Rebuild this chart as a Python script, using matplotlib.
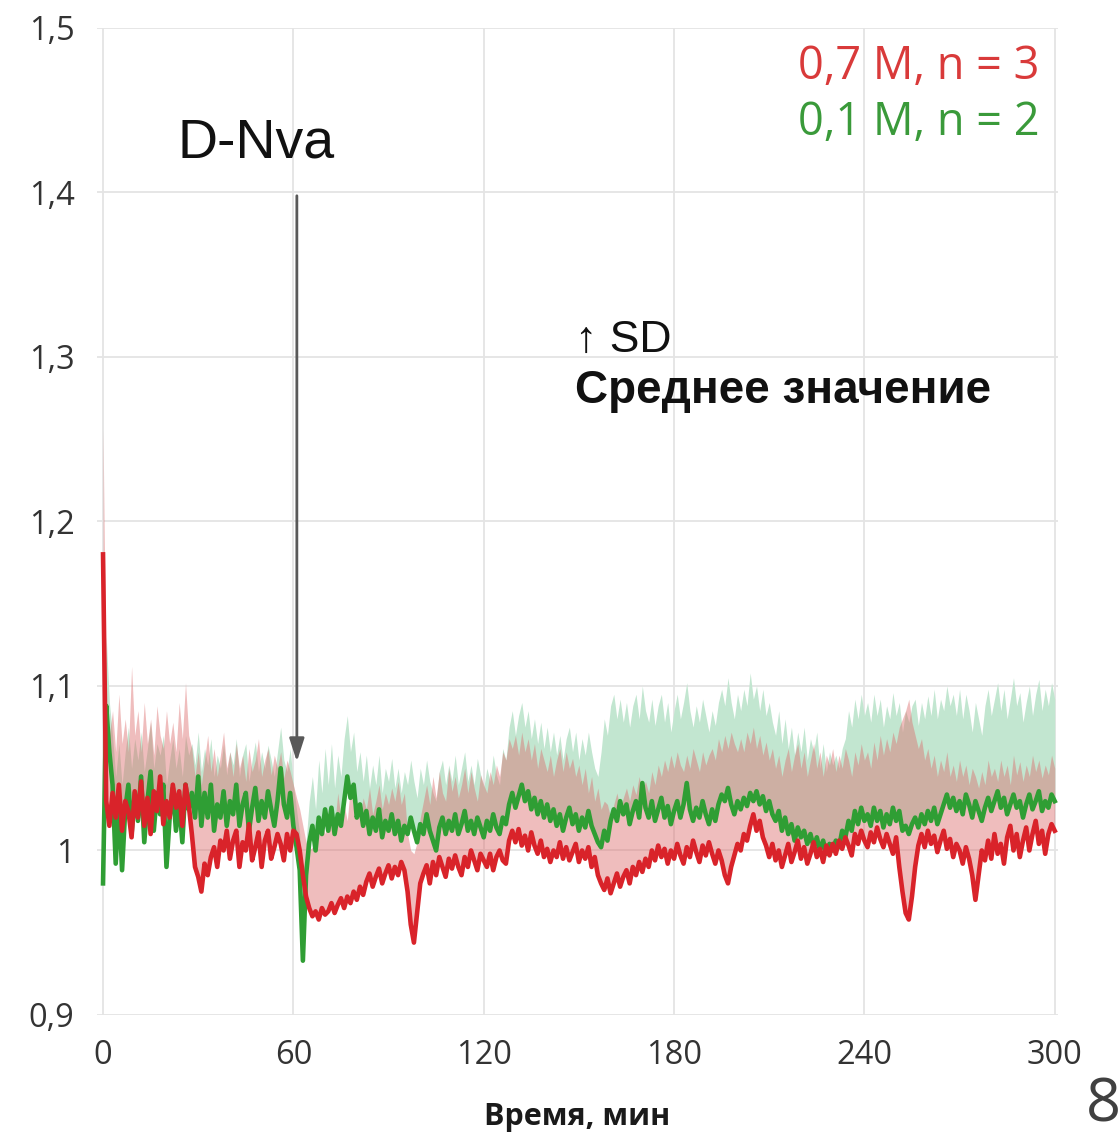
import numpy as np
import matplotlib
matplotlib.use("Agg")
import matplotlib.pyplot as plt

# time grid (minutes)
t = np.arange(0, 301)

# mean, 0.7 M (red)
red_mean = [
1.180,
1.030,1.015,1.035,1.020,1.040,1.012,1.030,1.024,1.008,1.036,
1.020,1.042,1.015,1.032,1.010,1.036,1.024,1.045,1.016,1.030,
1.020,1.040,1.026,1.036,1.015,1.040,1.028,1.010,0.990,0.984,
0.975,0.992,0.985,0.996,1.002,0.990,1.006,1.000,1.012,0.995,
1.006,1.012,0.990,1.005,1.000,1.016,0.994,1.002,1.011,0.990,
1.006,1.012,0.995,1.002,1.010,1.004,0.994,1.010,1.000,1.012,
1.010,1.000,0.985,0.972,0.965,0.960,0.963,0.958,0.965,0.961,
0.963,0.968,0.962,0.967,0.971,0.965,0.972,0.968,0.975,0.970,
0.978,0.973,0.981,0.986,0.978,0.984,0.989,0.980,0.986,0.991,
0.983,0.990,0.985,0.993,0.988,0.975,0.955,0.944,0.962,0.980,
0.986,0.991,0.980,0.993,0.985,0.996,0.990,0.984,0.995,0.989,
0.997,0.990,0.985,0.996,0.990,1.000,0.994,0.988,0.998,0.994,
0.990,0.998,0.988,0.996,1.000,0.994,0.992,1.006,1.012,1.005,
1.013,1.003,1.009,1.000,1.011,1.003,0.998,1.006,0.996,1.001,
0.993,1.000,0.996,1.005,0.995,1.002,0.994,0.999,1.004,0.993,
1.000,0.995,1.002,0.990,0.996,0.985,0.980,0.976,0.983,0.974,
0.980,0.986,0.978,0.984,0.988,0.980,0.990,0.985,0.993,0.987,
0.995,0.990,1.000,0.994,1.003,0.996,1.001,0.992,1.000,0.995,
1.004,0.997,0.992,1.002,0.996,1.006,0.999,0.993,1.003,0.997,
1.005,0.998,0.992,1.000,0.994,0.985,0.980,0.990,0.997,1.004,
1.000,1.010,1.006,1.015,1.022,1.012,1.018,1.008,1.003,0.996,
1.004,0.994,1.000,0.990,0.997,1.004,0.993,0.999,1.006,0.995,
1.002,0.992,0.998,1.005,0.996,1.001,0.993,1.003,0.997,1.004,
0.998,1.006,1.001,1.008,1.003,0.997,1.010,1.004,1.012,1.006,
1.002,1.011,1.005,1.014,1.007,1.002,1.010,1.004,0.998,1.008,
0.990,0.975,0.962,0.958,0.972,0.990,1.003,1.010,1.002,1.012,
1.004,1.009,0.999,1.006,1.012,1.001,1.007,0.996,1.004,1.000,
0.992,1.002,0.995,0.985,0.970,0.985,1.000,0.994,1.006,0.995,
1.010,0.998,1.004,0.992,1.008,1.015,1.000,1.010,0.996,1.006,
1.014,1.000,1.010,1.018,1.004,1.012,0.998,1.010,1.016,1.012,
]

# mean + SD, 0.7 M (red band top)
red_upper = [
1.256,
1.090,1.070,1.085,1.060,1.095,1.065,1.080,1.060,1.112,1.070,
1.085,1.060,1.090,1.065,1.080,1.058,1.088,1.070,1.062,1.085,
1.065,1.078,1.060,1.090,1.068,1.102,1.070,1.062,1.045,1.060,
1.040,1.055,1.070,1.048,1.062,1.045,1.058,1.072,1.050,1.060,
1.045,1.065,1.050,1.058,1.042,1.062,1.048,1.055,1.068,1.045,
1.055,1.062,1.046,1.058,1.050,1.060,1.044,1.055,1.048,1.040,
1.032,1.025,1.015,1.005,1.000,1.002,1.008,1.012,1.018,1.010,
1.020,1.025,1.015,1.035,1.020,1.028,1.018,1.040,1.025,1.030,
1.020,1.032,1.025,1.038,1.022,1.030,1.040,1.025,1.035,1.028,
1.038,1.030,1.042,1.028,1.035,1.010,1.000,0.998,1.005,1.020,
1.030,1.040,1.028,1.045,1.032,1.048,1.035,1.030,1.050,1.036,
1.045,1.032,1.040,1.050,1.035,1.048,1.038,1.030,1.046,1.040,
1.035,1.048,1.040,1.052,1.045,1.060,1.055,1.068,1.062,1.070,
1.058,1.072,1.060,1.068,1.055,1.065,1.050,1.062,1.055,1.048,
1.058,1.045,1.055,1.062,1.048,1.060,1.050,1.056,1.045,1.052,
1.040,1.050,1.035,1.045,1.030,1.038,1.025,1.030,1.028,1.020,
1.028,1.035,1.025,1.032,1.038,1.030,1.040,1.034,1.045,1.036,
1.042,1.035,1.048,1.040,1.052,1.045,1.055,1.048,1.058,1.050,
1.060,1.052,1.048,1.058,1.050,1.062,1.055,1.048,1.060,1.052,
1.058,1.062,1.055,1.068,1.060,1.070,1.062,1.072,1.065,1.060,
1.068,1.060,1.072,1.065,1.075,1.062,1.070,1.058,1.066,1.055,
1.062,1.050,1.058,1.045,1.055,1.062,1.048,1.058,1.065,1.050,
1.060,1.045,1.055,1.065,1.050,1.060,1.045,1.058,1.052,1.062,
1.048,1.058,1.050,1.062,1.055,1.045,1.060,1.052,1.065,1.055,
1.060,1.050,1.066,1.055,1.070,1.058,1.068,1.060,1.072,1.065,
1.075,1.080,1.085,1.092,1.078,1.070,1.062,1.068,1.055,1.062,
1.050,1.058,1.045,1.055,1.048,1.060,1.045,1.052,1.042,1.055,
1.045,1.052,1.040,1.050,1.045,1.038,1.048,1.040,1.055,1.045,
1.050,1.042,1.055,1.045,1.052,1.040,1.058,1.046,1.054,1.042,
1.052,1.045,1.058,1.048,1.055,1.044,1.052,1.046,1.058,1.050,
]

# mean, 0.1 M (green)
green_mean = [
0.980,
1.088,1.060,1.040,0.992,1.030,0.988,1.025,1.040,1.010,1.035,
1.018,1.045,1.005,1.030,1.048,1.012,1.035,1.022,1.040,0.990,
1.020,1.038,1.012,1.030,1.005,1.040,1.025,1.035,1.020,1.045,
1.015,1.035,1.020,1.040,1.012,1.028,1.020,1.036,1.015,1.030,
1.022,1.040,1.015,1.028,1.035,1.012,1.026,1.038,1.018,1.030,
1.020,1.036,1.025,1.015,1.030,1.050,1.028,1.020,1.035,1.015,
1.002,0.988,0.933,0.985,1.005,1.015,1.000,1.020,1.010,1.025,
1.012,1.026,1.010,1.022,1.015,1.030,1.045,1.032,1.040,1.020,
1.028,1.015,1.024,1.010,1.020,1.012,1.025,1.008,1.018,1.012,
1.022,1.010,1.018,1.006,1.015,1.010,1.020,1.012,1.005,1.016,
1.010,1.022,1.012,1.006,1.000,1.014,1.020,1.010,1.018,1.012,
1.022,1.010,1.016,1.024,1.012,1.018,1.010,1.020,1.014,1.008,
1.018,1.012,1.022,1.014,1.010,1.020,1.016,1.028,1.035,1.026,
1.033,1.040,1.030,1.036,1.025,1.032,1.022,1.030,1.020,1.028,
1.018,1.025,1.015,1.022,1.012,1.020,1.026,1.016,1.022,1.012,
1.020,1.014,1.024,1.015,1.010,1.005,1.002,1.012,1.006,1.018,
1.025,1.018,1.030,1.022,1.028,1.016,1.024,1.030,1.020,1.041,
1.026,1.020,1.030,1.018,1.025,1.032,1.020,1.027,1.016,1.024,
1.030,1.020,1.028,1.041,1.025,1.018,1.026,1.020,1.030,1.022,
1.016,1.025,1.018,1.028,1.034,1.030,1.038,1.028,1.022,1.030,
1.025,1.032,1.027,1.035,1.030,1.036,1.028,1.033,1.024,1.030,
1.022,1.018,1.024,1.012,1.020,1.010,1.016,1.006,1.014,1.008,
1.012,1.004,1.010,1.002,1.008,1.000,1.006,0.998,1.004,1.000,
1.006,1.002,1.012,1.008,1.018,1.012,1.024,1.016,1.026,1.018,
1.022,1.015,1.026,1.018,1.024,1.014,1.022,1.016,1.026,1.018,
1.024,1.012,1.015,1.010,1.016,1.020,1.014,1.022,1.016,1.024,
1.018,1.026,1.016,1.022,1.028,1.034,1.026,1.032,1.024,1.030,
1.022,1.034,1.028,1.020,1.030,1.024,1.018,1.026,1.032,1.024,
1.030,1.036,1.026,1.032,1.022,1.028,1.034,1.026,1.030,1.020,
1.028,1.034,1.025,1.030,1.036,1.024,1.030,1.026,1.034,1.030,
]

# mean + SD, 0.1 M (green band top)
green_upper = [
1.000,
1.130,1.090,1.070,1.045,1.065,1.040,1.060,1.075,1.050,1.068,
1.055,1.072,1.048,1.062,1.078,1.050,1.065,1.058,1.070,1.040,
1.055,1.068,1.050,1.062,1.045,1.070,1.058,1.065,1.052,1.072,
1.048,1.062,1.052,1.068,1.045,1.058,1.050,1.065,1.046,1.060,
1.052,1.068,1.045,1.058,1.065,1.042,1.055,1.066,1.048,1.060,
1.050,1.064,1.055,1.045,1.060,1.075,1.055,1.048,1.062,1.040,
1.025,1.010,0.950,1.005,1.030,1.045,1.025,1.055,1.035,1.062,
1.040,1.065,1.038,1.058,1.045,1.068,1.082,1.060,1.072,1.048,
1.060,1.042,1.058,1.038,1.052,1.040,1.058,1.035,1.050,1.042,
1.056,1.038,1.050,1.035,1.048,1.040,1.055,1.042,1.032,1.050,
1.040,1.055,1.042,1.035,1.030,1.048,1.055,1.040,1.052,1.042,
1.058,1.040,1.050,1.060,1.042,1.052,1.040,1.056,1.046,1.038,
1.050,1.042,1.058,1.046,1.040,1.062,1.055,1.075,1.085,1.070,
1.082,1.090,1.075,1.085,1.068,1.080,1.065,1.078,1.062,1.075,
1.060,1.072,1.058,1.070,1.055,1.068,1.075,1.060,1.072,1.055,
1.068,1.058,1.072,1.060,1.050,1.045,1.060,1.080,1.070,1.088,
1.095,1.080,1.092,1.078,1.090,1.075,1.088,1.095,1.080,1.100,
1.085,1.078,1.092,1.076,1.088,1.095,1.078,1.090,1.072,1.085,
1.095,1.080,1.090,1.102,1.085,1.075,1.088,1.078,1.092,1.082,
1.072,1.085,1.076,1.090,1.098,1.088,1.105,1.090,1.080,1.095,
1.085,1.098,1.088,1.108,1.092,1.100,1.085,1.098,1.082,1.090,
1.078,1.070,1.085,1.065,1.080,1.062,1.075,1.058,1.072,1.060,
1.075,1.055,1.068,1.060,1.072,1.050,1.065,1.048,1.060,1.052,
1.058,1.050,1.062,1.068,1.085,1.075,1.092,1.080,1.095,1.082,
1.090,1.078,1.095,1.082,1.092,1.075,1.088,1.080,1.096,1.082,
1.090,1.072,1.085,1.078,1.088,1.092,1.076,1.090,1.080,1.094,
1.082,1.098,1.080,1.092,1.085,1.100,1.088,1.095,1.082,1.098,
1.080,1.095,1.085,1.072,1.090,1.080,1.070,1.088,1.098,1.082,
1.092,1.102,1.085,1.098,1.080,1.092,1.105,1.088,1.096,1.078,
1.090,1.100,1.082,1.095,1.104,1.085,1.098,1.088,1.102,1.092,
]

x_ticks = [0, 60, 120, 180, 240, 300]
y_ticks = [0.9, 1.0, 1.1, 1.2, 1.3, 1.4, 1.5]
y_tick_labels = ["0,9", "1", "1,1", "1,2", "1,3", "1,4", "1,5"]
x_label = "Время, мин"
legend_red = "0,7 M, n = 3"
legend_green = "0,1 M, n = 2"
event_label = "D-Nva"
event_time = 61.1

RED = "#d9232a"
GREEN = "#2f9e34"

fig = plt.figure(figsize=(11.19, 11.47), dpi=100)
ax = fig.add_axes([0.0864, 0.1151, 0.859, 0.8605])

ax.fill_between(t, green_mean, green_upper, color="#c2e6d0", lw=0, zorder=1)
ax.fill_between(t, red_mean, red_upper, color="#dc6e6e", alpha=0.45, lw=0, zorder=2)
ax.plot(t, green_mean, color=GREEN, lw=3.3, zorder=3)
ax.plot(t, red_mean, color=RED, lw=3.3, zorder=4)

ax.set_xlim(-2, 301)
ax.set_ylim(0.9, 1.5)
ax.set_xticks(x_ticks)
ax.set_xticklabels([str(v) for v in x_ticks])
ax.set_yticks(y_ticks)
ax.set_yticklabels(y_tick_labels)
ax.grid(True, color="#e4e4e4", lw=1.3, zorder=0)
ax.set_axisbelow(True)
for s in ax.spines.values():
    s.set_visible(False)
ax.tick_params(length=0, labelsize=23.5, colors="#333333", pad=0)
ax.tick_params(axis="y", pad=16)
ax.tick_params(axis="x", pad=17)
for lab in ax.get_xticklabels() + ax.get_yticklabels():
    lab.set_family(["Open Sans", "DejaVu Sans"])

ax.set_xlabel(x_label, fontsize=22, fontweight="bold", family=["Open Sans", "DejaVu Sans"],
              color="#1a1a1a", labelpad=22)

ax.annotate("", xy=(event_time, 1.054), xytext=(event_time, 1.398),
            arrowprops=dict(arrowstyle="-|>,head_length=1.4,head_width=0.45",
                            color="#595959", lw=2.0, shrinkA=0, shrinkB=0), zorder=5)
ax.text(23.6, 1.421, event_label, fontsize=40, family=["Liberation Sans", "DejaVu Sans"],
        color="#111111", ha="left", va="baseline")

ax.text(148.8, 1.303, "↑ SD", fontsize=32, family=["Liberation Sans", "DejaVu Sans"],
        color="#111111", ha="left", va="baseline")
ax.text(148.8, 1.272, "Среднее значение", fontsize=33, fontweight="bold",
        family=["Liberation Sans", "DejaVu Sans"], color="#111111", ha="left", va="baseline")

ax.text(295.3, 1.4687, legend_red, fontsize=32.5, family=["Open Sans", "DejaVu Sans"],
        color="#d93a3a", ha="right", va="baseline")
ax.text(295.3, 1.4347, legend_green, fontsize=32.5, family=["Open Sans", "DejaVu Sans"],
        color="#3a9a3a", ha="right", va="baseline")

fig.text(1103 / 1119, 1 - 1122 / 1147, "8", fontsize=44, color="#404040",
         family=["Open Sans", "DejaVu Sans"], ha="center", va="baseline")

fig.savefig("out.png", dpi=100, facecolor="white")
